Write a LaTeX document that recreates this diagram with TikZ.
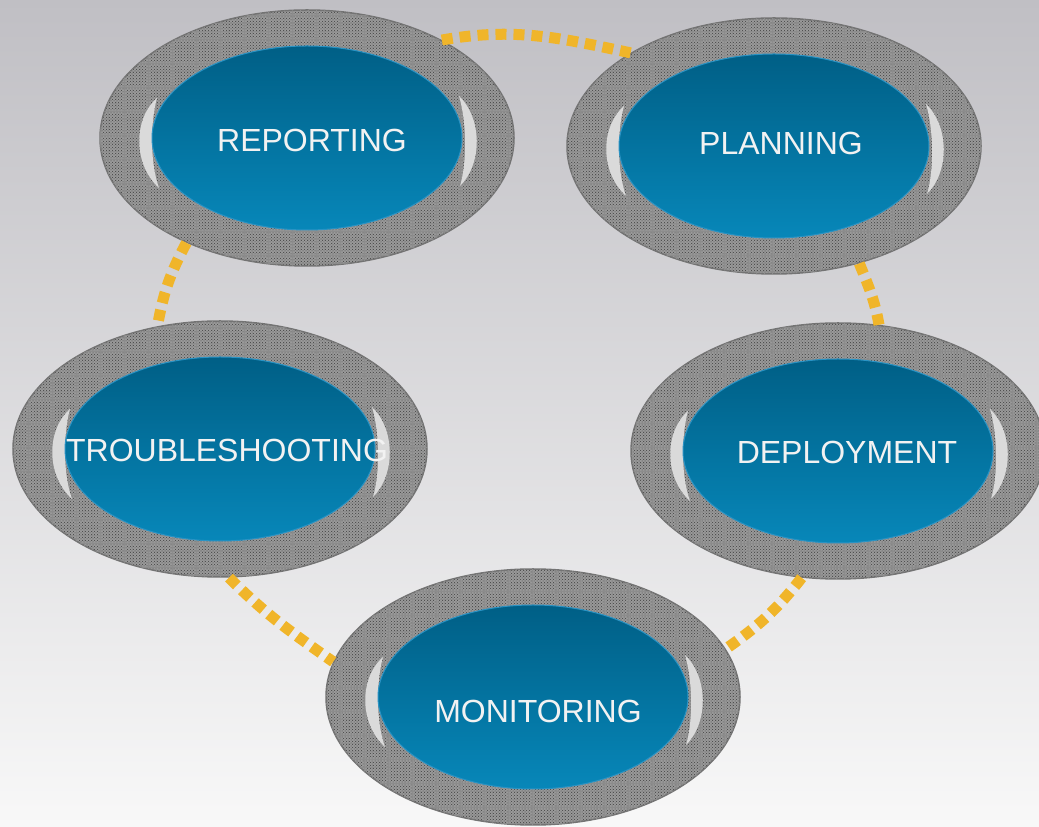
\documentclass[tikz,border=0pt]{standalone}
\usepackage{fontspec}
\setmainfont{Liberation Sans}
\usetikzlibrary{shapes.geometric,patterns,patterns.meta,calc}

\definecolor{bgtop}{HTML}{C0BFC4}
\definecolor{bgbottom}{HTML}{F8F8F8}
\definecolor{ringgray}{HTML}{9A9A9A}
\definecolor{bluetop}{HTML}{005F86}
\definecolor{bluebottom}{HTML}{0787B9}
\definecolor{blueedge}{HTML}{2A93C4}
\definecolor{dashgold}{HTML}{F0B52A}
\definecolor{labelwhite}{HTML}{F2F2F2}
\definecolor{shine}{HTML}{DADADA}

\tikzdeclarepattern{
    name=meshlines,
    type=uncolored,
    bottom left={(-.5pt,-.5pt)},
    top right={(8.5pt,8.5pt)},
    tile size={(8pt,8pt)},
    code={\draw[line width=0.6pt] (0,4pt) -- (8pt,4pt) (4pt,0) -- (4pt,8pt);}
}

\tikzset{
    ring/.style={ellipse, minimum width=414pt, minimum height=256pt, inner sep=0pt,
        preaction={fill=ringgray}, pattern=crosshatch dots, pattern color=black!75,
        postaction={pattern=meshlines, pattern color=black!45},
        draw=black!55, line width=1.5pt},
    core/.style={ellipse, minimum width=310pt, minimum height=184pt, inner sep=0pt,
        top color=bluetop, bottom color=bluebottom, draw=blueedge, line width=1pt},
    crescent/.style={fill=shine},
    link/.style={draw=dashgold, line width=11pt, dash pattern=on 11pt off 7pt},
    stage/.style={text=labelwhite, font=\fontsize{32}{38}\selectfont}
}

\begin{document}
\begin{tikzpicture}[x=1pt,y=1pt]
        \useasboundingbox (0,0) rectangle (1039,827);
        \fill[top color=bgtop, bottom color=bgbottom] (0,0) rectangle (1039,827);

        % gray rings
        \node[ring] (reporting) at (307,689) {};
        \node[ring] (planning) at (774,681) {};
        \node[ring] (troubleshooting) at (220,378) {};
        \node[ring] (deployment) at (838,376) {};
        \node[ring] (monitoring) at (533,130) {};

        % light highlights on both sides
        \foreach \n in {reporting,planning,troubleshooting,deployment,monitoring} {
            \fill[crescent] ($(\n)+(-150,40)$) .. controls ($(\n)+(-173,20)$) and ($(\n)+(-175,-25)$) .. ($(\n)+(-148,-50)$)
                .. controls ($(\n)+(-157,-25)$) and ($(\n)+(-157,15)$) .. cycle;
            \fill[crescent] ($(\n)+(152,42)$) .. controls ($(\n)+(175,20)$) and ($(\n)+(176,-25)$) .. ($(\n)+(153,-48)$)
                .. controls ($(\n)+(160,-25)$) and ($(\n)+(160,15)$) .. cycle;
        }

        % blue cores with the stage names
        \node[core, label={[stage,xshift=5pt,yshift=-2pt]center:REPORTING}] (reporting-core) at (reporting) {};
        \node[core, label={[stage,xshift=7pt,yshift=3pt]center:PLANNING}] (planning-core) at (planning) {};
        \node[core, label={[stage,xshift=7pt,yshift=-1pt]center:TROUBLESHOOTING}] (troubleshooting-core) at (troubleshooting) {};
        \node[core, label={[stage,xshift=9pt,yshift=-1pt]center:DEPLOYMENT}] (deployment-core) at (deployment) {};
        \node[core, label={[stage,xshift=5pt,yshift=-14pt]center:MONITORING}] (monitoring-core) at (monitoring) {};

        % dotted cycle
        \draw[link] (reporting.36) to[out=10,in=168] (planning.147);
        \draw[link] (planning.306) to[out=-68,in=100] (deployment.72);
        \draw[link] (deployment.254) to[out=232,in=35] (monitoring.14);
        \draw[link] (troubleshooting.274) to[out=-45,in=145] (monitoring.170);
        \draw[link] (reporting.221) to[out=242,in=80] (troubleshooting.117);
\end{tikzpicture}
\end{document}
